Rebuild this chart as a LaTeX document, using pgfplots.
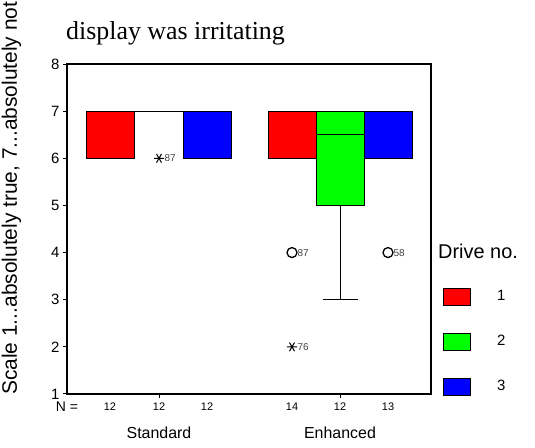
\documentclass[border=0pt]{standalone}
\usepackage{fontspec}
\setmainfont{Liberation Sans}
\newfontfamily\serif{Liberation Serif}
\usepackage{pgfplots}
\pgfplotsset{compat=1.18}

\newcommand\fs[1]{\fontsize{#1}{#1}\selectfont}

\begin{document}
\begin{tikzpicture}
\path[use as bounding box] (-67bp,-54bp) rectangle (468bp,394bp);
\begin{axis}[
    at={(0,0)}, anchor=south west,
    scale only axis,
    width=364bp, height=330bp,
    xmin=0, xmax=364, ymin=1, ymax=8,
    ytick={1,...,8},
    xtick={92,273}, xticklabels={},
    extra x ticks={43,92,140,225,273,321},
    extra x tick labels={12,12,12,14,12,13},
    extra x tick style={major tick length=0pt, xticklabel style={font=\fs{11}, yshift=-5bp}},
    yticklabel style={font=\fs{15}},
    tick align=outside, major tick length=4bp,
    xtick pos=lower, ytick pos=left,
    axis line style={line width=1.2bp},
    tick style={line width=1bp, black},
    /pgf/number format/assume math mode=true,
    legend image code/.code={\draw[#1, line width=1bp] (0bp,-8.5bp) rectangle (27bp,8.5bp);},
    legend style={draw=none, fill=none, at={(1.033,0.3227)}, anchor=north west,
        inner sep=0pt, outer sep=0pt, row sep=27bp, column sep=26bp,
        nodes={inner sep=0pt, font=\fs{15}}},
    legend cell align=left,
    clip=false,
]
\addlegendimage{fill=red, draw=black}
\addlegendimage{fill=green, draw=black}
\addlegendimage{fill=blue, draw=black}
\legend{1,2,3}

% boxes: lower quartile to upper quartile, box width 48 around the drive position
% Standard (positions 43, 92, 140)
\addplot[fill=red, draw=black, line width=1bp] coordinates {(19,6) (67,6) (67,7) (19,7)} -- cycle;
\addplot[draw=black, line width=1bp] coordinates {(68,7) (116,7)};  % drive 2: all 7
\addplot[fill=blue, draw=black, line width=1bp] coordinates {(116,6) (164,6) (164,7) (116,7)} -- cycle;
% Enhanced (positions 225, 273, 321)
\addplot[fill=red, draw=black, line width=1bp] coordinates {(201,6) (249,6) (249,7) (201,7)} -- cycle;
\addplot[fill=green, draw=black, line width=1bp] coordinates {(249,5) (297,5) (297,7) (249,7)} -- cycle;
\addplot[fill=blue, draw=black, line width=1bp] coordinates {(297,6) (345,6) (345,7) (297,7)} -- cycle;
% median and lower whisker of Enhanced drive 2
\addplot[draw=black, line width=1bp] coordinates {(249,6.5) (297,6.5)};
\addplot[draw=black, line width=1bp] coordinates {(273,5) (273,3)};
\addplot[draw=black, line width=1bp] coordinates {(255.5,3) (290.5,3)};

% outliers
\addplot[only marks, mark=o, mark size=5bp, mark options={line width=1.3bp, black},
    nodes near coords, point meta=explicit symbolic,
    nodes near coords style={anchor=west, font=\fs{10}, text=black!75, inner sep=0pt, xshift=5bp}]
    table[meta=label] {
x y label
225 4 87
321 4 58
};
% extremes
\addplot[only marks, mark=asterisk, mark size=5bp, mark options={rotate=90, line width=1bp, black},
    nodes near coords, point meta=explicit symbolic,
    nodes near coords style={anchor=west, font=\fs{10}, text=black!75, inner sep=0pt, xshift=5bp}]
    table[meta=label] {
x y label
92 6 87
225 2 76
};
\end{axis}
\node[anchor=base, font=\fs{14}] at (0bp,-17bp) {N =};
\node[anchor=base, font=\fs{16}] at (92bp,-44bp) {Standard};
\node[anchor=base, font=\fs{16}] at (273bp,-44bp) {Enhanced};
\node[anchor=base west, font=\serif\fs{26}, inner sep=0pt] at (-1bp,354bp) {display was irritating};
\node[rotate=90, anchor=base west, font=\fs{21}, inner sep=0pt] at (-50bp,-1bp) {Scale 1...absolutely true, 7...absolutely not};
\node[anchor=base west, font=\fs{20}, inner sep=0pt] at (371bp,135bp) {Drive no.};
\end{tikzpicture}
\end{document}
